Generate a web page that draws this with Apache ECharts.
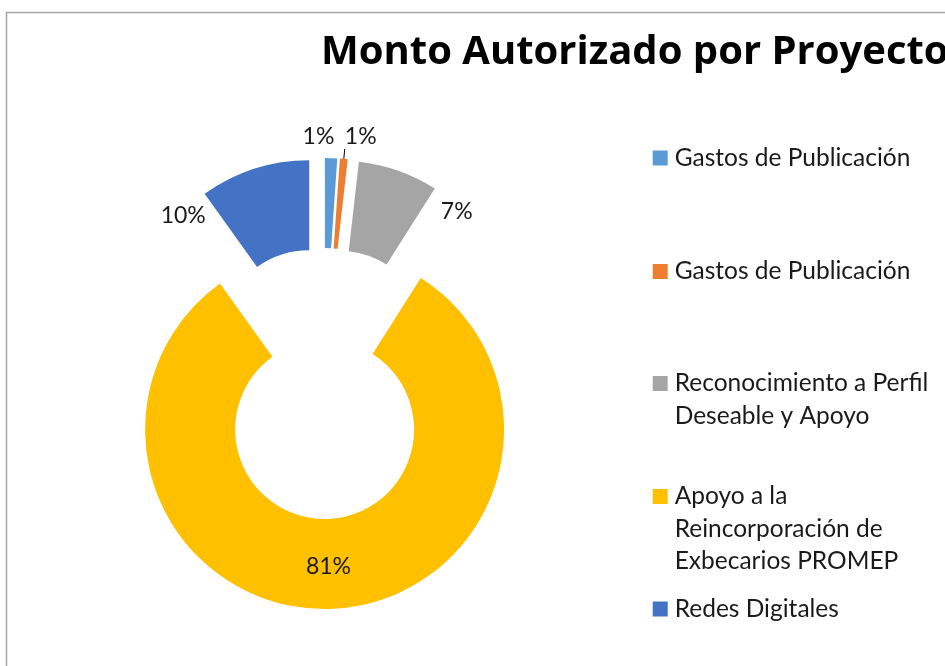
<!DOCTYPE html>
<html>
<head>
<meta charset="utf-8">
<script src="https://cdn.jsdelivr.net/npm/echarts@6/dist/echarts.min.js"></script>
<style>
  html, body { margin: 0; padding: 0; background: #fff; }
  #main { width: 945px; height: 666px; }
</style>
</head>
<body>
<div id="main"></div>
<script>
var categories = ['Gastos de Publicación', 'Gastos de Publicación', 'Reconocimiento a Perfil Deseable y Apoyo',
    'Apoyo a la Reincorporación de Exbecarios PROMEP', 'Redes Digitales'];
var values = [1.1, 0.7, 7.2, 81.1, 9.9];
var colors = ['#5B9BD5', '#ED7D31', '#A5A5A5', '#FFC000', '#4472C4'];

// icon centres of the legend rows, and how far each label is nudged
var legendIconY = [158, 271.5, 383.5, 496.5, 609];
var labelShift = [[-13, -12], [16, -12], [55, 50], [0, 0], [-68, 56]];

var FONT = 'Lato, "Noto Sans", sans-serif';
var LH = 32.3;

function wrap(s, max) {
    var words = s.split(' '), lines = [], cur = '';
    words.forEach(function (w) {
        if (cur && (cur + ' ' + w).length > max) { lines.push(cur); cur = w; }
        else cur = cur ? cur + ' ' + w : w;
    });
    lines.push(cur);
    return lines;
}

var pctText = values.map(function (v) { return Math.round(v) + '%'; });

// two slices share a name; make the keys unique for the legend
var names = categories.map(function (c, i) {
    return c + '\u200b'.repeat(categories.slice(0, i).filter(function (x) { return x === c; }).length);
});

var pieData = values.map(function (v, i) {
    var item = { name: names[i], value: v, selected: true, itemStyle: { color: colors[i] } };
    if (i === 3) item.label = { position: 'inside' };
    if (i === 1) item.labelLine = { show: true };
    return item;
});

var legends = names.map(function (n, i) {
    var lines = wrap(categories[i], 23);
    var k = lines.length;
    return {
        data: [n],
        orient: 'vertical',
        left: 652.7,
        top: legendIconY[i] - (2 * k - 1) * LH / 2,
        padding: 0,
        itemWidth: 15,
        itemHeight: 15,
        selectedMode: false,
        icon: 'rect',
        // empty lines on top keep the icon beside the first line
        formatter: function () { return new Array(k).join('\n') + lines.join('\n'); },
        textStyle: {
            fontFamily: FONT, fontSize: 24.5, color: '#1a1a1a', lineHeight: LH,
            padding: [0, 0, 0, 2]
        }
    };
});

var myChart = echarts.init(document.getElementById('main'));
myChart.setOption({
    animation: false,
    title: {
        text: 'Monto Autorizado por Proyecto',
        left: 316,
        top: 28,
        textStyle: { fontFamily: '"Open Sans", Lato, sans-serif', fontWeight: 'bold', fontSize: 40, color: '#000' }
    },
    legend: legends,
    graphic: [{
        type: 'rect',
        shape: { x: 6.5, y: 12.5, width: 1000, height: 700 },
        style: { fill: 'none', stroke: '#a6a6a6', lineWidth: 1.5 },
        z: -1
    }],
    series: [{
        type: 'pie',
        center: [323.3, 383.5],
        radius: [89.5, 179.5],
        startAngle: 90,
        selectedMode: 'multiple',
        selectedOffset: 46,
        percentPrecision: 0,
        avoidLabelOverlap: false,
        silent: true,
        label: {
            show: true,
            position: 'outside',
            formatter: '{d}%',
            fontFamily: FONT,
            fontSize: 23,
            color: '#1a1a1a',
            distanceToLabelLine: 0
        },
        labelLine: { show: false, length: 10, length2: 0, lineStyle: { color: '#000', width: 1 } },
        labelLayout: function (p) {
            var idx = pctText[p.dataIndex] === p.text ? p.dataIndex : pctText.indexOf(p.text);
            var s = labelShift[idx];
            return { dx: s[0], dy: s[1], align: 'center' };
        },
        emphasis: { disabled: true },
        data: pieData
    }]
});
</script>
</body>
</html>
